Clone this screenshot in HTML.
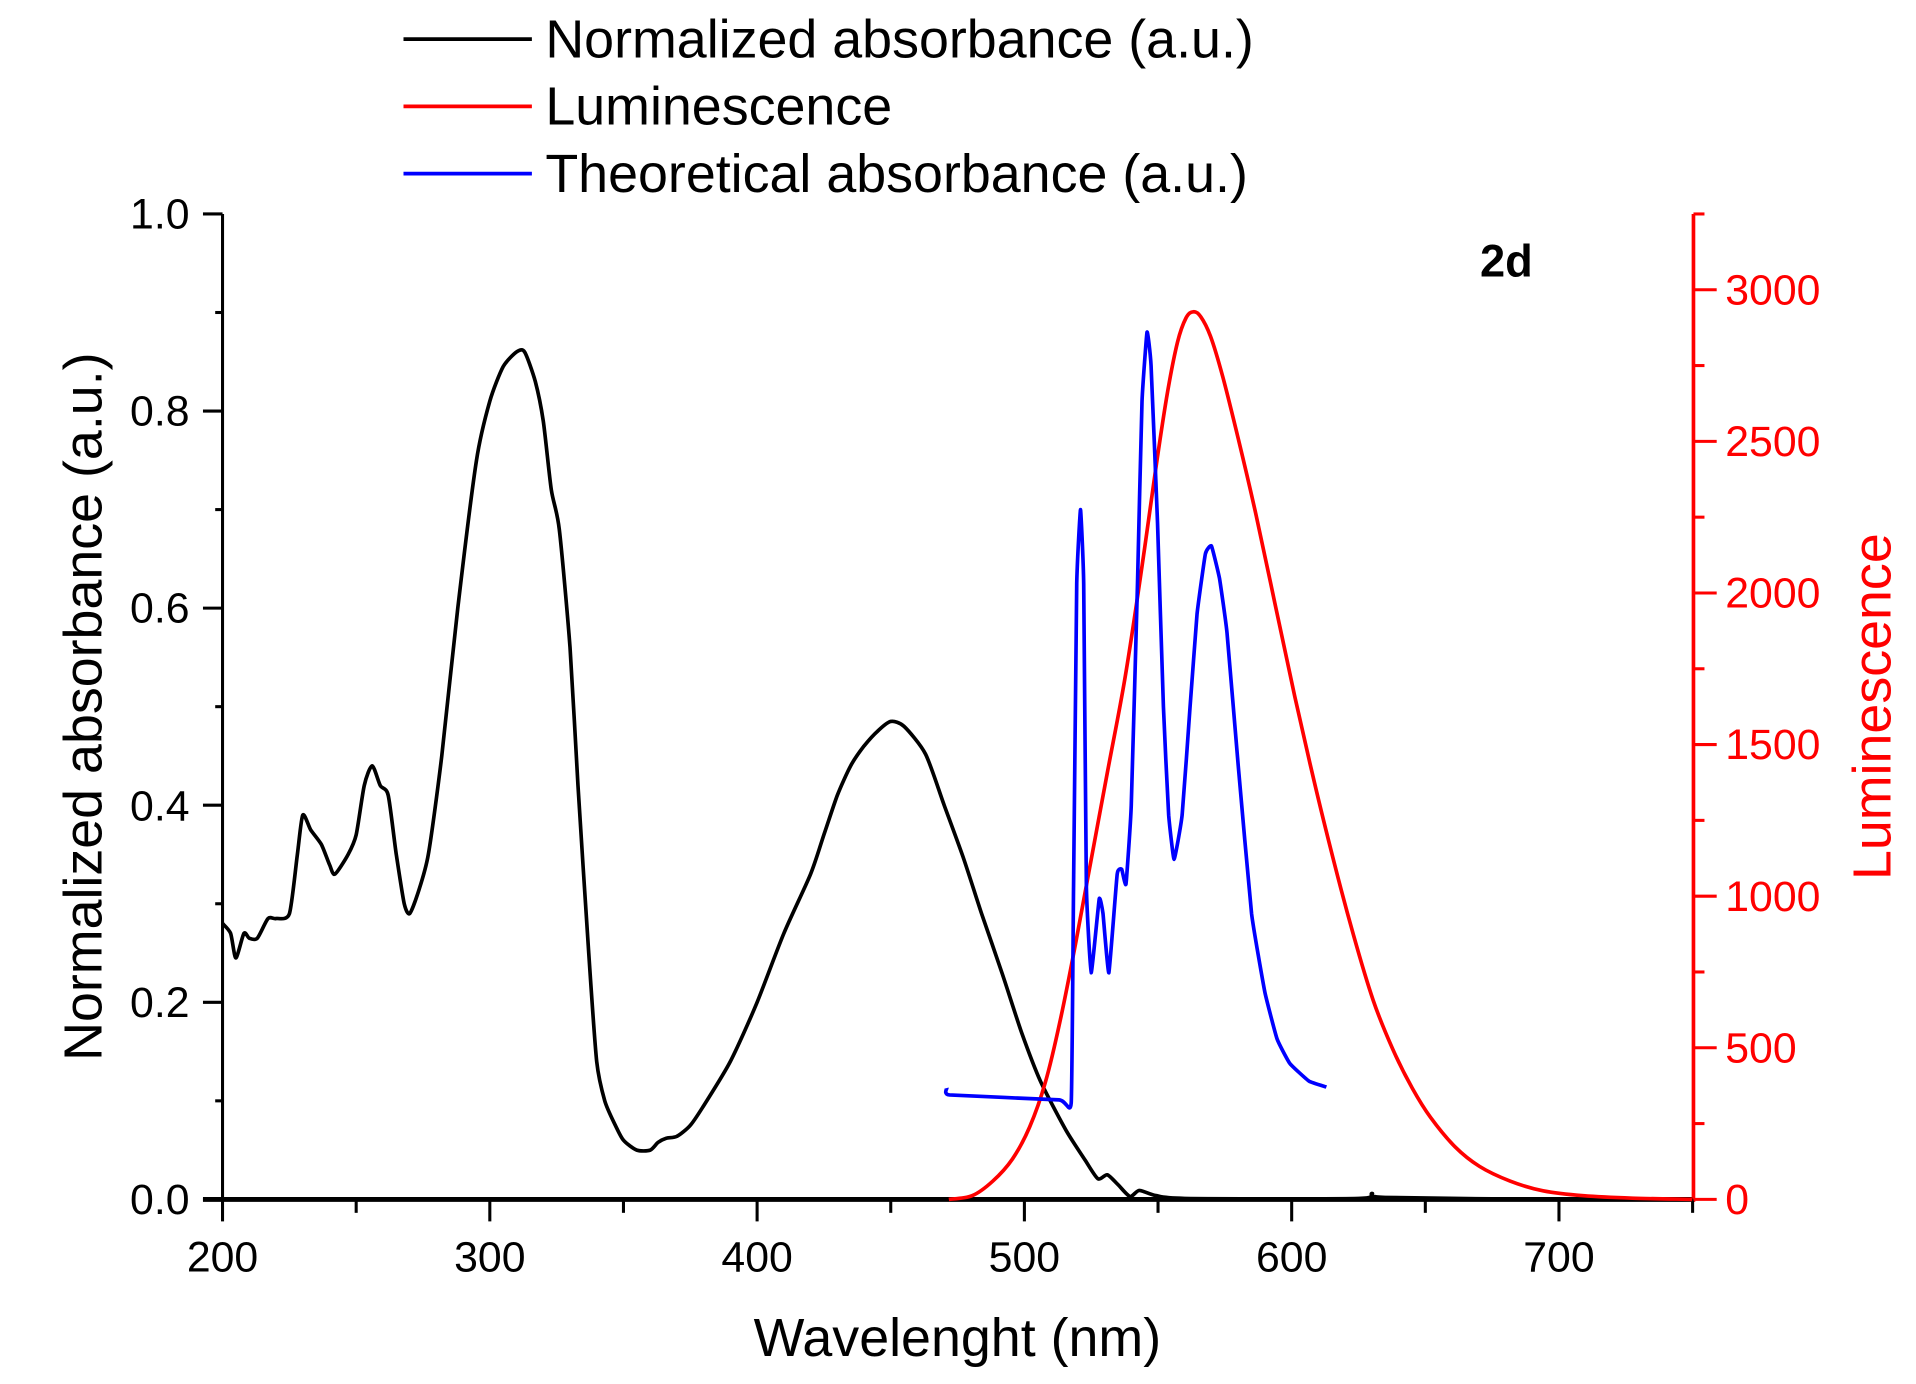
<!DOCTYPE html>
<html><head><meta charset="utf-8"><style>html,body{margin:0;padding:0;background:#fff}svg{display:block}</style></head>
<body>
<svg id="s" width="1916" height="1384" viewBox="0 0 1567 1132" preserveAspectRatio="none" xmlns="http://www.w3.org/2000/svg" font-family="Liberation Sans, Arial, sans-serif">
<g id="g"></g>
<g font-size="35" fill="#000" text-anchor="middle">
<text x="182" y="1040">200</text><text x="400.6" y="1040">300</text><text x="619.2" y="1040">400</text><text x="837.8" y="1040">500</text><text x="1056.4" y="1040">600</text><text x="1275" y="1040">700</text>
</g>
<g font-size="35" fill="#000" text-anchor="end">
<text x="155" y="993">0.0</text><text x="155" y="832">0.2</text><text x="155" y="671">0.4</text><text x="155" y="509">0.6</text><text x="155" y="348">0.8</text><text x="155" y="187">1.0</text>
</g>
<g font-size="35" fill="#f00" text-anchor="start">
<text x="1411" y="993">0</text><text x="1411" y="869">500</text><text x="1411" y="745">1000</text><text x="1411" y="621">1500</text><text x="1411" y="497">2000</text><text x="1411" y="373">2500</text><text x="1411" y="249">3000</text>
</g>
<text x="783" y="1109" font-size="44" text-anchor="middle">Wavelenght (nm)</text>
<text transform="translate(83,578) rotate(-90)" font-size="44" text-anchor="middle">Normalized absorbance (a.u.)</text>
<text transform="translate(1546,578) rotate(-90)" font-size="44" text-anchor="middle" fill="#f00">Luminescence</text>
<text x="1232" y="226" font-size="37" font-weight="bold" text-anchor="middle">2d</text>
<line x1="330" y1="32" x2="435" y2="32" stroke="#000" stroke-width="3"/>
<line x1="330" y1="87" x2="435" y2="87" stroke="#f00" stroke-width="3"/>
<line x1="330" y1="142" x2="435" y2="142" stroke="#00f" stroke-width="3"/>
<g font-size="44"><text x="446" y="47">Normalized absorbance (a.u.)</text><text x="446" y="102">Luminescence</text><text x="446" y="157">Theoretical absorbance (a.u.)</text></g>
</svg>
<script>
const X=n=>182+(n-200)*2.186, YA=a=>981-a*806;
let h='';
const ln=(a,b,c,d,col,w)=>h+=`<line x1="${a}" y1="${b}" x2="${c}" y2="${d}" stroke="${col}" stroke-width="${w||2.5}"/>`;
ln(182,175,182,983,'#000',2.5);ln(166,981,1385,981,'#000',4);
ln(1385,175,1385,983,'#f00',3);
for(let i=0;i<=10;i++){let y=981-i*80.6;ln(i%2?176:166,y,182,y,'#000');}
for(let n=200;n<=750;n+=50){let x=X(n);ln(x,981,x,n%100?992:999,'#000');}
for(let i=0;i<=13;i++){let y=981-i*62;ln(1385,y,i%2?1394:1404,y,'#f00');}
const S=(p,col,t)=>{
 let s=`M${p[0][0].toFixed(1)},${p[0][1].toFixed(1)}`;
 for(let i=0;i<p.length-1;i++){
  const a=p[Math.max(0,i-1)],b=p[i],c=p[i+1],e=p[Math.min(p.length-1,i+2)];
  s+=` C${(b[0]+(c[0]-a[0])*t).toFixed(1)},${(b[1]+(c[1]-a[1])*t).toFixed(1)} ${(c[0]-(e[0]-b[0])*t).toFixed(1)},${(c[1]-(e[1]-b[1])*t).toFixed(1)} ${c[0].toFixed(1)},${c[1].toFixed(1)}`;
 }
 h+=`<path fill="none" stroke="${col}" stroke-width="3" stroke-linejoin="round" d="${s}"/>`;};
const P=(d,col,t)=>S(d.map(q=>[X(q[0]),YA(q[1])]),col,t);
const blk=[[200,.28],[203,.27],[205,.245],[208,.27],[210,.265],[213,.265],[217,.285],[220,.285],[225,.29],[228,.35],[230,.39],[233,.375],[237,.36],[240,.34],[242,.33],[247,.35],[250,.37],[253,.42],[256,.44],[259,.42],[262,.41],[265,.35],[268,.30],[270,.29],[273,.31],[277,.35],[282,.45],[288,.6],[295,.75],[300,.81],[305,.845],[310,.86],[313,.86],[317,.83],[320,.79],[323,.72],[326,.68],[330,.56],[333,.42],[337,.25],[340,.14],[343,.1],[347,.075],[350,.06],[355,.05],[360,.05],[363,.058],[366,.062],[370,.064],[375,.075],[380,.095],[390,.14],[400,.2],[410,.27],[420,.33],[425,.37],[430,.41],[435,.44],[440,.46],[445,.475],[450,.485],[455,.48],[463,.452],[470,.40],[477,.348],[484,.29],[491.6,.23],[499,.169],[506,.12],[515.6,.07],[522.7,.04],[527.5,.021],[531,.025],[535,.015],[539.5,.003],[543,.009],[549,.004],[560,.001],[625,.001],[630,.006],[635,.002],[700,0],[750,0]];
const red=[[776,981],[795,978],[812,966],[828,948],[842,922],[855,885],[867,835],[880,770],[893,700],[906,630],[920,555],[933,470],[945,385],[955,320],[963,280],[970,260],[976,255],[982,259],[990,275],[1000,308],[1013,360],[1027,420],[1043,495],[1059,570],[1075,640],[1091,705],[1107,765],[1123,818],[1139,858],[1155,890],[1170,914],[1190,938],[1210,954],[1235,966],[1262,974],[1295,978],[1335,980],[1384,981]];
const blu=[[471,.113],[472,.106],[513,.101],[517.5,.098],[518.4,.317],[519.6,.625],[521,.70],[522.2,.625],[523.2,.317],[525,.23],[528,.305],[529.4,.29],[531.6,.23],[534.7,.33],[536.4,.335],[538,.32],[540,.40],[542.3,.625],[544,.81],[545.9,.88],[547.4,.846],[549.8,.686],[552,.50],[554,.39],[556,.345],[559,.39],[562,.50],[564.6,.594],[567.7,.655],[570,.663],[573,.63],[575.8,.575],[580,.44],[585,.29],[590,.21],[594.5,.163],[599.3,.138],[606.5,.12],[613,.114]];
P(blk,'#000',0.12);S(red,'#f00',0.17);P(blu,'#00f',0.06);
document.getElementById('g').innerHTML=h;
</script>
</body></html>
